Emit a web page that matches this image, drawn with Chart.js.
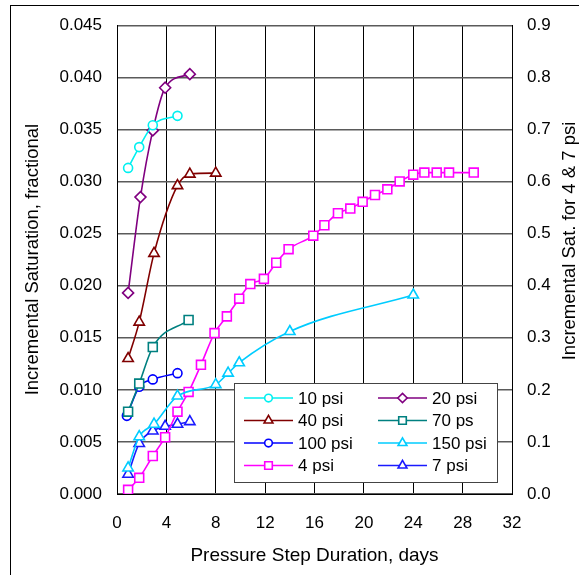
<!DOCTYPE html>
<html>
<head>
<meta charset="utf-8">
<script src="https://cdn.jsdelivr.net/npm/chart.js@4/dist/chart.umd.min.js"></script>
<style>
  html, body { margin: 0; padding: 0; background: #fff; }
  #wrap { width: 579px; height: 575px; }
</style>
</head>
<body>
<div id="wrap"><canvas id="sat-chart" width="579" height="575"></canvas></div>
<script>
// pressure step data, days vs incremental saturation
const days10 = [0.9, 1.8, 2.9, 4.9];
const sat10 = [0.0313, 0.0333, 0.0354, 0.0363];
const days20 = [0.9, 1.9, 2.9, 3.9, 5.9];
const sat20 = [0.0193, 0.0285, 0.0349, 0.039, 0.0403];
const days40 = [0.9, 1.8, 3.0, 4.9, 5.9, 8.0];
const sat40 = [0.0130, 0.0165, 0.0231, 0.0296, 0.0307, 0.0308];
const days70 = [0.9, 1.8, 2.9, 5.8];
const sat70 = [0.0079, 0.0106, 0.0141, 0.0167];
const days100 = [0.8, 1.8, 2.9, 4.9];
const sat100 = [0.0075, 0.0103, 0.011, 0.0116];
const days150 = [0.9, 1.8, 3.0, 4.9, 8.0, 9.0, 9.9, 14.0, 24.0];
const sat150 = [0.0025, 0.0055, 0.0067, 0.0094, 0.0105, 0.0116, 0.0126, 0.0156, 0.0191];
// 4 & 7 psi go on the right axis
const days4 = [0.9, 1.8, 2.9, 3.9, 4.9, 5.8, 6.8, 7.9, 8.9, 9.9, 10.8, 11.9, 12.9, 13.9,
  15.9, 16.8, 17.9, 18.9, 19.9, 20.9, 21.9, 22.9, 24.0, 24.9, 25.9, 26.9, 28.9];
const sat4 = [0.008, 0.031, 0.073, 0.109, 0.158, 0.196, 0.248, 0.309, 0.341, 0.375, 0.403,
  0.413, 0.444, 0.47, 0.496, 0.516, 0.539, 0.548, 0.561, 0.574, 0.585, 0.6, 0.613, 0.617,
  0.617, 0.617, 0.617];
const days7 = [0.9, 1.8, 2.9, 3.9, 4.9, 5.9];
const sat7 = [0.038, 0.097, 0.121, 0.130, 0.134, 0.139];

const xTicks = [0, 4, 8, 12, 16, 20, 24, 28, 32];
const yTicks = [0, 0.005, 0.01, 0.015, 0.02, 0.025, 0.03, 0.035, 0.04, 0.045];
const y2Ticks = [0, 0.1, 0.2, 0.3, 0.4, 0.5, 0.6, 0.7, 0.8, 0.9];

const FONT = "'Liberation Sans', Arial, sans-serif";
const rightTitle = "Incremental Sat. for 4 & 7 psi";

function pts(xs, ys) {
  return xs.map((x, i) => ({ x: x, y: ys[i] }));
}

function series(label, xs, ys, color, style, radius, axis) {
  return {
    label: label,
    data: pts(xs, ys),
    borderColor: color,
    backgroundColor: color,
    borderWidth: 1.6,
    pointStyle: style,
    pointRadius: radius,
    pointBorderWidth: 1.6,
    pointBackgroundColor: "#fff",
    pointBorderColor: color,
    cubicInterpolationMode: "monotone",
    yAxisID: axis,
  };
}

const datasets = [
  series("10 psi", days10, sat10, "#00F0F0", "circle", 4.5, "y"),
  series("20 psi", days20, sat20, "#800080", "rectRot", 5.5, "y"),
  series("40 psi", days40, sat40, "#800000", "triangle", 6, "y"),
  series("70 ps", days70, sat70, "#008080", "rect", 6.3, "y"),
  series("100 psi", days100, sat100, "#0000FF", "circle", 4.5, "y"),
  series("150 psi", days150, sat150, "#00CCFF", "triangle", 6, "y"),
  series("4 psi", days4, sat4, "#FF00FF", "rect", 6.3, "y2"),
  series("7 psi", days7, sat7, "#1A1AFF", "triangle", 6, "y2"),
];

function marker(ctx, style, x, y, r) {
  ctx.beginPath();
  if (style === "circle") {
    ctx.arc(x, y, r, 0, Math.PI * 2);
  } else if (style === "rect") {
    const s = r * Math.SQRT1_2;
    ctx.rect(x - s, y - s, 2 * s, 2 * s);
  } else if (style === "rectRot") {
    ctx.moveTo(x, y - r); ctx.lineTo(x + r, y); ctx.lineTo(x, y + r); ctx.lineTo(x - r, y);
    ctx.closePath();
  } else {
    ctx.moveTo(x, y - r); ctx.lineTo(x + r * 0.866, y + r / 2); ctx.lineTo(x - r * 0.866, y + r / 2);
    ctx.closePath();
  }
  ctx.fill();
  ctx.stroke();
}

// white page, outer excel chart frame, right axis title read bottom-up
const frame = {
  id: "frame",
  beforeDraw(chart) {
    const ctx = chart.ctx;
    ctx.save();
    ctx.fillStyle = "#fff";
    ctx.fillRect(0, 0, chart.width, chart.height);
    ctx.strokeStyle = "#000";
    ctx.lineWidth = 1;
    ctx.strokeRect(10.5, 5.5, 700, 700);
    ctx.restore();
  },
  afterDraw(chart) {
    const ctx = chart.ctx;
    ctx.save();
    ctx.translate(570, 241);
    ctx.rotate(-Math.PI / 2);
    ctx.font = "18.5px " + FONT;
    ctx.fillStyle = "#000";
    ctx.textAlign = "center";
    ctx.textBaseline = "middle";
    ctx.fillText(rightTitle, 0, 0);
    ctx.restore();
  },
};

// boxed legend inside the plot, two columns
const legendBox = {
  id: "legendBox",
  afterDatasetsDraw(chart) {
    const ctx = chart.ctx;
    ctx.save();
    ctx.fillStyle = "#fff";
    ctx.fillRect(234, 383, 263, 99);
    ctx.strokeStyle = "#444";
    ctx.lineWidth = 1;
    ctx.strokeRect(234.5, 383.5, 263, 99);
    const rows = [398, 420.5, 443, 465.5];
    const cols = [244, 378];
    ctx.font = "17px " + FONT;
    ctx.textBaseline = "middle";
    chart.data.datasets.forEach((ds, i) => {
      const cx = cols[i % 2];
      const cy = rows[Math.floor(i / 2)];
      ctx.strokeStyle = ds.borderColor;
      ctx.lineWidth = 1.6;
      ctx.beginPath();
      ctx.moveTo(cx, cy);
      ctx.lineTo(cx + 49, cy);
      ctx.stroke();
      ctx.fillStyle = "#fff";
      marker(ctx, ds.pointStyle, cx + 24.5, cy, ds.pointRadius * 0.85);
      ctx.fillStyle = "#000";
      ctx.fillText(ds.label, cx + 54, cy + 1);
    });
    ctx.restore();
  },
};

const config = {
  type: "line",
  data: { datasets: datasets },
  options: {
    responsive: false,
    animation: false,
    devicePixelRatio: 1,
    layout: { padding: { top: 23, left: 0, right: 0, bottom: 0 } },
    plugins: {
      legend: { display: false },
      tooltip: { enabled: false },
    },
    scales: {
      x: {
        type: "linear",
        position: "bottom",
        min: 0,
        max: 32,
        afterBuildTicks: (s) => { s.ticks = xTicks.map((v) => ({ value: v })); },
        afterFit: (s) => { s.height = 81; },
        grid: { color: "#000", lineWidth: 1, drawTicks: false },
        border: { color: "#000", width: 1 },
        ticks: { color: "#000", padding: 19, font: { family: FONT, size: 17 } },
        title: {
          display: true,
          text: "Pressure Step Duration, days",
          color: "#000",
          font: { family: FONT, size: 19 },
          padding: { top: 0, bottom: 8 },
        },
      },
      y: {
        position: "left",
        min: 0,
        max: 0.045,
        afterBuildTicks: (s) => { s.ticks = yTicks.map((v) => ({ value: v })); },
        afterFit: (s) => { s.width = 117; },
        grid: { color: "#5a5a5a", lineWidth: 1.4, drawTicks: false },
        border: { color: "#000", width: 1 },
        ticks: {
          color: "#000",
          padding: 15,
          font: { family: FONT, size: 17 },
          callback: (v) => v.toFixed(3),
        },
        title: {
          display: true,
          text: "Incremental Saturation, fractional",
          color: "#000",
          font: { family: FONT, size: 18.5 },
          padding: { top: 22, bottom: 0 },
        },
      },
      y2: {
        position: "right",
        min: 0,
        max: 0.9,
        afterBuildTicks: (s) => { s.ticks = y2Ticks.map((v) => ({ value: v })); },
        afterFit: (s) => { s.width = 67; },
        grid: { drawOnChartArea: false, drawTicks: false },
        border: { color: "#000", width: 1 },
        ticks: {
          color: "#000",
          padding: 15,
          font: { family: FONT, size: 17 },
          callback: (v) => v.toFixed(1),
        },
        title: { display: false },
      },
    },
  },
  plugins: [frame, legendBox],
};

const satChart = new Chart(document.getElementById("sat-chart"), config);
</script>
</body>
</html>
